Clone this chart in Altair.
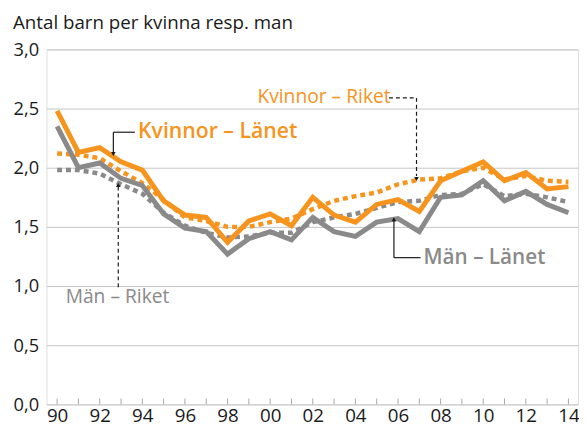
import altair as alt
import pandas as pd

FONT = "Open Sans"
ORANGE = "#F7941E"
GRAY = "#8A8A8A"
INK = "#1A1A1A"

years = list(range(1990, 2015))
kvinnor_lanet = [2.48, 2.13, 2.17, 2.05, 1.98, 1.72, 1.60, 1.58, 1.37, 1.55, 1.61, 1.51,
                 1.75, 1.60, 1.54, 1.69, 1.73, 1.63, 1.89, 1.97, 2.05, 1.89, 1.96, 1.82, 1.84]
kvinnor_riket = [2.12, 2.11, 2.08, 1.97, 1.87, 1.73, 1.58, 1.55, 1.50, 1.50, 1.54, 1.57,
                 1.65, 1.72, 1.76, 1.79, 1.86, 1.90, 1.91, 1.97, 2.00, 1.90, 1.93, 1.89, 1.88]
man_lanet = [2.35, 2.00, 2.04, 1.91, 1.85, 1.61, 1.49, 1.46, 1.27, 1.40, 1.46, 1.39,
             1.58, 1.46, 1.42, 1.54, 1.57, 1.46, 1.75, 1.77, 1.89, 1.72, 1.80, 1.69, 1.62]
man_riket = [1.98, 1.98, 1.95, 1.86, 1.78, 1.62, 1.51, 1.45, 1.41, 1.42, 1.45, 1.45,
             1.54, 1.58, 1.61, 1.66, 1.71, 1.72, 1.77, 1.78, 1.86, 1.76, 1.78, 1.75, 1.71]

series_names = ["Kvinnor – Länet", "Kvinnor – Riket", "Män – Länet", "Män – Riket"]
series_values = [kvinnor_lanet, kvinnor_riket, man_lanet, man_riket]

rows = []
for name, vals in zip(series_names, series_values):
    for yr, v in zip(years, vals):
        rows.append({"year": yr, "value": v, "series": name})
df = pd.DataFrame(rows)

y_ticks = [0, 0.5, 1.0, 1.5, 2.0, 2.5, 3.0]
x_label_years = list(range(1990, 2015, 2))

x_scale = alt.Scale(domain=[1989.5, 2014.45], nice=False, zero=False)
y_scale = alt.Scale(domain=[0, 3], nice=False)

W, H = 539, 360

# base layer with x axis and inward year ticks
ticks = alt.Chart(pd.DataFrame({"year": years})).mark_rule(color="#A8A8A8", strokeWidth=1).encode(
    x=alt.X("year:Q", scale=x_scale,
            axis=alt.Axis(values=x_label_years, labelExpr="substring(toString(datum.value), 2, 4)",
                          grid=False, ticks=False, domain=False, labelFontSize=19, labelFont=FONT,
                          labelColor=INK, labelPadding=2, title=None)),
    y=alt.value(H),
    y2=alt.value(H - 6),
)

yaxis_layer = alt.Chart(pd.DataFrame({"v": y_ticks})).mark_point(opacity=0).encode(
    y=alt.Y("v:Q", scale=y_scale,
            axis=alt.Axis(values=y_ticks, labelExpr="replace(format(datum.value, '.1f'), '.', ',')",
                          grid=True, gridColor="#C4C4C4", gridWidth=1, ticks=False, domain=False,
                          labelFontSize=18.5, labelFont=FONT, labelColor=INK, labelPadding=8, title=None)),
)


def series_line(name, color, width, dash=None):
    kw = dict(color=color, strokeWidth=width, strokeCap="butt", strokeJoin="miter")
    if dash:
        kw["strokeDash"] = dash
    return alt.Chart(df).transform_filter(alt.datum.series == name).mark_line(**kw).encode(
        x=alt.X("year:Q", scale=x_scale),
        y=alt.Y("value:Q", scale=y_scale),
    )


lines = [
    series_line("Män – Riket", GRAY, 4.5, [5, 4]),
    series_line("Kvinnor – Riket", ORANGE, 4.5, [5, 4]),
    series_line("Män – Länet", GRAY, 5),
    series_line("Kvinnor – Länet", ORANGE, 5),
]

# annotation leaders (data coordinates)
solid_segments = pd.DataFrame({
    "x": [1992.64, 1992.64, 2005.81, 2005.81],
    "x2": [1993.65, 1992.64, 2007.06, 2005.81],
    "y": [2.30, 2.30, 1.24, 1.24],
    "y2": [2.30, 2.13, 1.24, 1.55],
})
dashed_segments = pd.DataFrame({
    "x": [2005.58, 2006.87, 1992.87],
    "x2": [2006.87, 2006.87, 1992.87],
    "y": [2.59, 2.59, 0.99],
    "y2": [2.59, 1.93, 1.84],
})


def segs(data, dash=None):
    kw = dict(color=INK, strokeWidth=1.2)
    if dash:
        kw["strokeDash"] = dash
    return alt.Chart(data).mark_rule(**kw).encode(
        x=alt.X("x:Q", scale=x_scale), x2="x2:Q",
        y=alt.Y("y:Q", scale=y_scale), y2="y2:Q",
    )


arrows_down = pd.DataFrame({"x": [1992.64, 2006.87], "y": [2.115, 1.905]})
arrows_up = pd.DataFrame({"x": [2005.81, 1992.87], "y": [1.565, 1.855]})


def arrows(data, shape):
    return alt.Chart(data).mark_point(shape=shape, filled=True, color=INK, size=22, opacity=1).encode(
        x=alt.X("x:Q", scale=x_scale), y=alt.Y("y:Q", scale=y_scale))


def label(text, x, y, color, size, weight):
    return alt.Chart(pd.DataFrame({"x": [x], "y": [y], "t": [text]})).mark_text(
        align="left", baseline="middle", fontSize=size, fontWeight=weight, color=color, font=FONT
    ).encode(x=alt.X("x:Q", scale=x_scale), y=alt.Y("y:Q", scale=y_scale), text="t:N")


labels = [
    label("Kvinnor – Länet", 1993.8, 2.30, ORANGE, 21.5, 600),
    label("Kvinnor – Riket", 1999.4, 2.60, ORANGE, 19.5, "normal"),
    label("Män – Länet", 2007.2, 1.24, GRAY, 21, 600),
    label("Män – Riket", 1990.4, 0.91, GRAY, 19.5, "normal"),
]

chart = alt.layer(
    yaxis_layer, ticks, *lines,
    segs(solid_segments), segs(dashed_segments, [4, 3]),
    arrows(arrows_down, "triangle-down"), arrows(arrows_up, "triangle-up"),
    *labels,
).properties(
    width=W, height=H,
    title=alt.TitleParams("Antal barn per kvinna resp. man", anchor="start", frame="bounds",
                          fontSize=19, fontWeight="normal", color=INK, font=FONT, offset=8),
    padding={"left": 39, "top": 39, "right": 1, "bottom": 24},
    autosize=alt.AutoSizeParams(type="none"),
).configure_view(stroke="#333333", strokeWidth=1.2).configure(background="white")

chart.save("out.html", embed_options={"renderer": "svg", "actions": False})
